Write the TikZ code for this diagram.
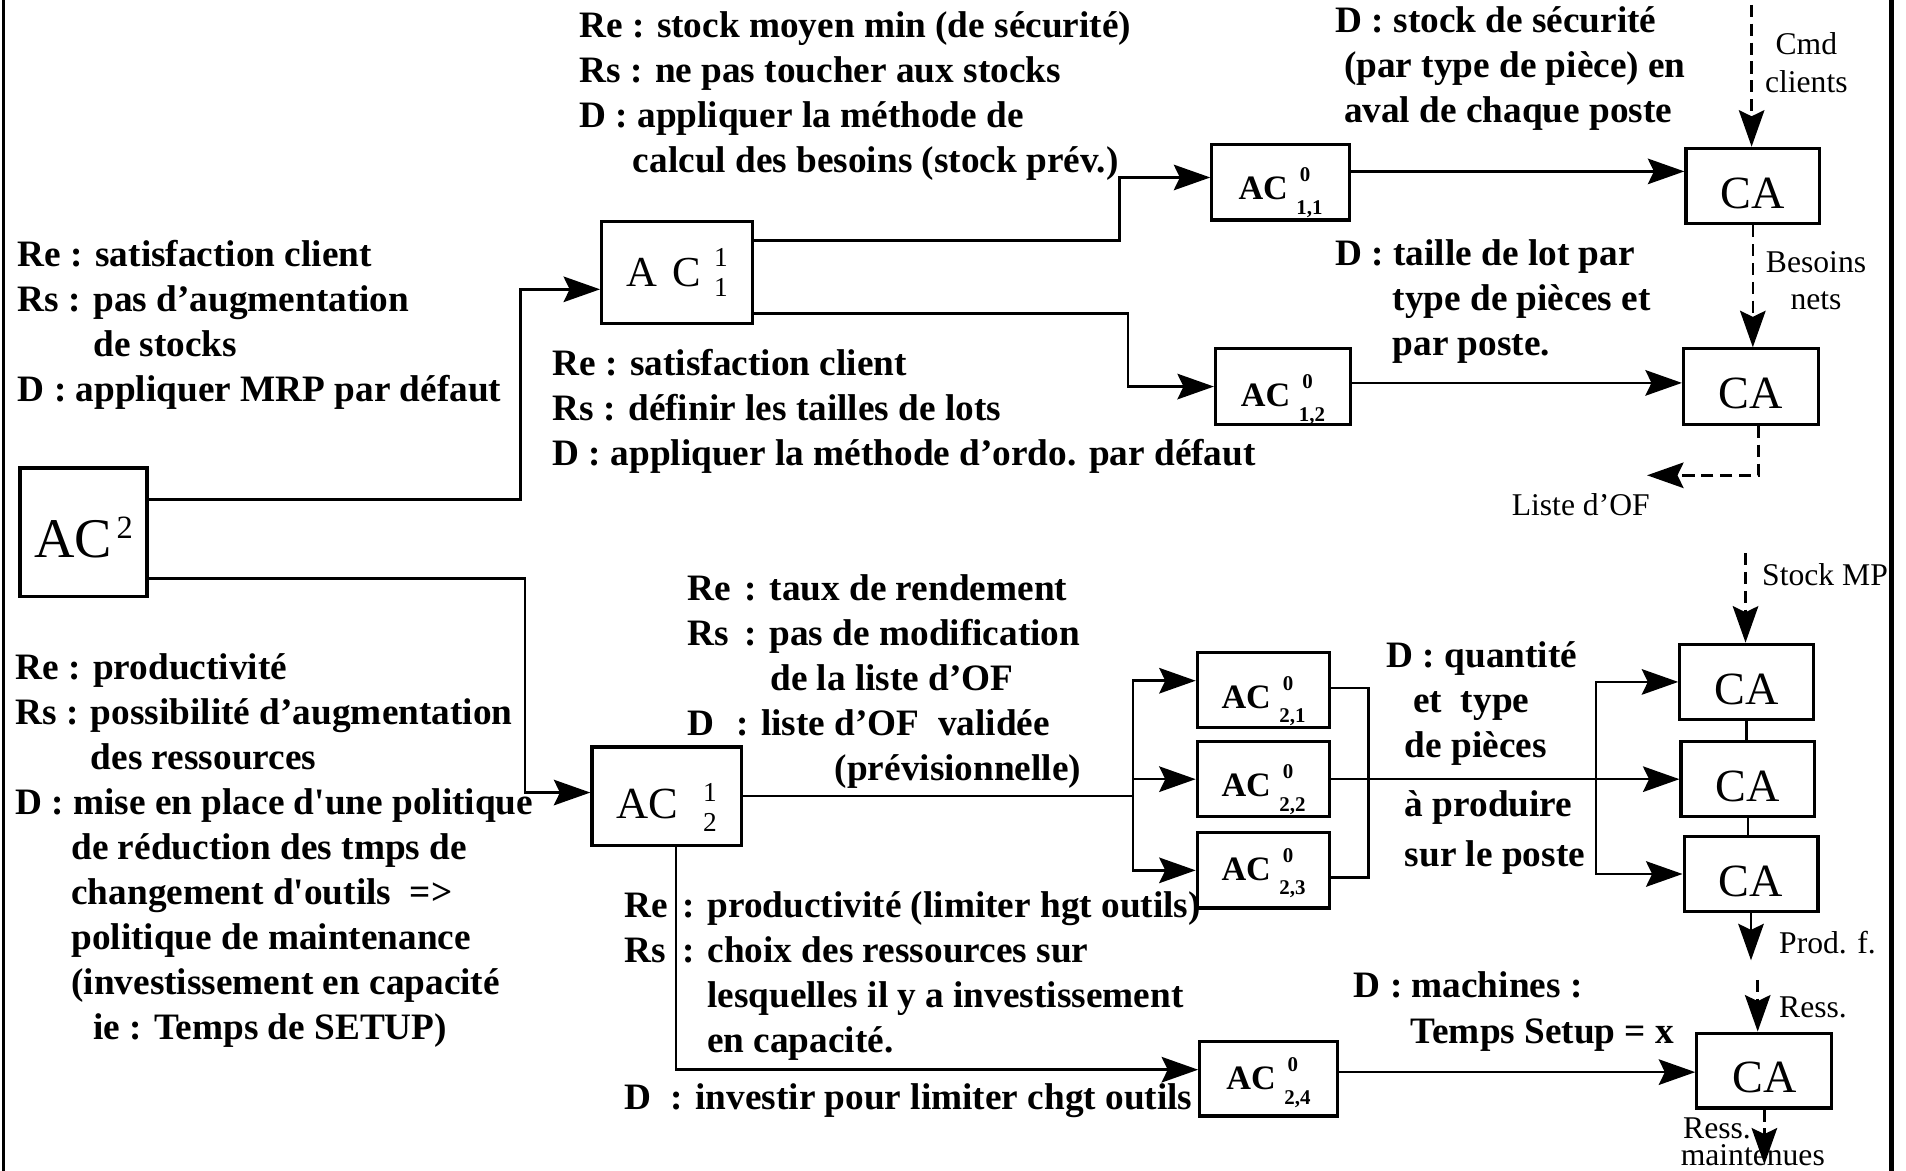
\documentclass[tikz,border=0pt]{standalone}
\usepackage{fontspec}
\setmainfont{Liberation Serif}
\usetikzlibrary{arrows.meta}
\newcommand{\txtfont}{\bfseries\fontsize{8.72}{10.53}\selectfont}
\newcommand{\lblfont}{\fontsize{7.4}{8.8}\selectfont}
\newcommand{\supsub}[4]{\rlap{\raisebox{#3}{#1}}\raisebox{#4}{#2}}
\newcommand{\aczero}[1]{AC\hspace{2pt}{\fontsize{4.9}{5}\selectfont\supsub{\hspace{0.8pt}0}{#1}{4.2pt}{-3.4pt}}}
\tikzset{
  box/.style={draw, line width=0.75pt, inner sep=0pt, text depth=0pt},
  cabox/.style={box, minimum width=1.1cm, minimum height=0.62cm,
                font=\fontsize{10.8}{12}\selectfont, text height=10.5pt},
  acbox/.style={box, minimum width=1.1cm, minimum height=0.62cm,
                font=\bfseries\fontsize{8}{9}\selectfont},
  conn/.style={line width=0.6pt},
  arr/.style={conn, -{Stealth[length=0.3cm, width=0.21cm, inset=0.05cm]}},
  darr/.style={arr, dash pattern=on 0.1cm off 0.055cm},
  txt/.style={font=\txtfont, inner sep=0pt, anchor=base west},
  lbl/.style={font=\lblfont, inner sep=0pt, anchor=base west},
}
\begin{document}
\begin{tikzpicture}[x=0.01cm, y=-0.01cm]
\useasboundingbox (0,0) rectangle (1568,963);
% frame
\draw[line width=0.8pt] (3,0) -- (3,963);
\draw[line width=1pt] (1556,0) -- (1556,963);

% level 2 and level 1
\node[box, minimum width=1.045cm, minimum height=1.06cm, text height=11.95pt,
      font=\fontsize{13.1}{14}\selectfont] (ac2) at (68.7,438)
      {AC\hspace{1.1pt}\raisebox{4.5pt}{\fontsize{7.6}{8}\selectfont 2}};
\node[box, minimum width=1.24cm, minimum height=0.84cm, text height=6.8pt,
      font=\fontsize{10}{12}\selectfont] (ac11) at (557,224)
      {A\hspace{0.36em}C\hspace{3pt}{\fontsize{6.4}{7}\selectfont\supsub{1}{1}{4.8pt}{-2.2pt}}};
\node[box, minimum width=1.23cm, minimum height=0.81cm, text height=10.2pt,
      font=\fontsize{10.4}{12}\selectfont] (ac12) at (548.5,655)
      {AC\hspace{5.8pt}{\fontsize{6.4}{7}\selectfont\supsub{1}{2}{3.9pt}{-3.1pt}}};

% level 0
\node[acbox, minimum width=1.13cm, text height=8.2pt] (ac011) at (1053.5,150) {\aczero{1,1}};
\node[acbox, minimum width=1.11cm, text height=9.5pt] (ac012) at (1055.5,318) {\aczero{1,2}};
\node[acbox, minimum width=1.09cm, text height=8.5pt] (ac021) at (1039.5,567.5) {\aczero{2,1}};
\node[acbox, minimum width=1.09cm, text height=8.3pt] (ac022) at (1039.5,641) {\aczero{2,2}};
\node[acbox, minimum width=1.09cm, text height=4.6pt] (ac023) at (1039.5,716) {\aczero{2,3}};
\node[acbox, minimum width=1.13cm, minimum height=0.61cm, text height=5.1pt] (ac024) at (1043.5,887.5) {\aczero{2,4}};

% centres d'action
\node[cabox] (caA) at (1442,153) {CA};
\node[cabox, minimum width=1.11cm] (caB) at (1440.5,318) {CA};
\node[cabox] (caC1) at (1437,561) {CA};
\node[cabox] (caC2) at (1438,641) {CA};
\node[cabox] (caC3) at (1440.5,719) {CA};
\node[cabox, minimum width=1.11cm, minimum height=0.615cm] (caD) at (1451.5,880.7) {CA};

% connectors
\draw[arr] (ac2.east |- 0,411) -- (428,411) |- (ac11.west |- 0,238);
\draw[arr] (ac2.east |- 0,476) -- (432,476) |- (ac12.west |- 0,652);
\draw[arr] (ac11.east |- 0,198) -- (921,198) |- (ac011.west |- 0,146);
\draw[arr] (ac11.east |- 0,258) -- (928,258) |- (ac012.west);
\draw[arr] (ac011.east |- 0,141) -- (caA.west |- 0,141);
\draw[arr] (ac012.east |- 0,315) -- (caB.west |- 0,315);
\coordinate (fork) at (932,655);
\draw[conn] (ac12.east) -- (fork);
\draw[arr] (fork) |- (ac021.west |- 0,560);
\draw[arr] (fork) |- (ac022.west);
\draw[arr] (fork) |- (ac023.west);
\draw[conn] (ac021.east |- 0,566) -| (1126,722) -- (ac023.east |- 0,722);
\draw[arr] (ac022.east) -- (caC2.west);
\coordinate (join) at (1313,641);
\draw[arr] (join) |- (caC1.west);
\draw[arr] (join) |- (caC3.west);
\draw[conn] (caC1.south) -- (caC1.south |- caC2.north);
\draw[conn] (caC2.south) -- (caC2.south |- caC3.north);
\draw[arr] (ac12.south -| 556,0) |- (ac024.west |- 0,880);
\draw[arr] (ac024.east |- 0,882) -- (caD.west |- 0,882);

% flows
\coordinate (cmdin) at (1441,4);
\draw[darr] (cmdin) -- (cmdin |- caA.north);
\draw[darr] (caA.south) -- (caA.south |- caB.north);
\coordinate (ofend) at (1355,391);
\draw[darr] ([xshift=0.06cm]caB.south) |- (ofend);
\coordinate (mpin) at (1436,455);
\draw[darr] (mpin) -- (mpin |- caC1.north);
\coordinate (prodout) at (1443,790);
\draw[arr] (caC3.south) -- (caC3.south |- prodout);
\coordinate (ressin) at (1446,806);
\draw[darr] (ressin) -- (ressin |- caD.north);
\coordinate (ressout) at (1450,958);
\draw[darr] (caD.south) -- (caD.south |- ressout);

% texts
\node[txt] (txtL1) at (14,219) {\begin{tabular}[t]{@{}l@{}}
  Re : satisfaction client\\
  Rs : pas d’augmentation\\
  \hspace*{0.62cm}de stocks\\
  D : appliquer MRP par défaut\end{tabular}};
\node[txt] (txtTC) at (476,31) {\begin{tabular}[t]{@{}l@{}}
  Re : stock moyen min (de sécurité)\\
  Rs : ne pas toucher aux stocks\\
  D : appliquer la méthode de\\
  \hspace*{0.44cm}calcul des besoins (stock prév.)\end{tabular}};
\node[txt] (txtM1) at (454,309) {\begin{tabular}[t]{@{}l@{}}
  Re : satisfaction client\\
  Rs : définir les tailles de lots\\
  D : appliquer la méthode d’ordo. par défaut\end{tabular}};
\node[txt] (txtTR) at (1098,27) {\begin{tabular}[t]{@{}l@{}}
  D : stock de sécurité\\
  \hspace*{0.07cm}(par type de pièce) en\\
  \hspace*{0.07cm}aval de chaque poste\end{tabular}};
\node[txt] (txtR1) at (1098,218) {\begin{tabular}[t]{@{}l@{}}
  D : taille de lot par\\
  \hspace*{0.47cm}type de pièces et\\
  \hspace*{0.47cm}par poste.\end{tabular}};
\node[txt] (txtL2) at (12,559) {\begin{tabular}[t]{@{}l@{}}
  Re : productivité\\
  Rs : possibilité d’augmentation\\
  \hspace*{0.62cm}des ressources\\
  D : mise en place d\textquotesingle une politique\\
  \hspace*{0.46cm}de réduction des tmps de\\
  \hspace*{0.46cm}changement d\textquotesingle outils\ \ =>\\
  \hspace*{0.46cm}politique de maintenance\\
  \hspace*{0.46cm}(investissement en capacité\\
  \hspace*{0.64cm}ie : Temps de SETUP)\end{tabular}};
\node[txt] (txtM2) at (565,494) {\begin{tabular}[t]{@{}l@{}}
  \makebox[0.47cm][l]{Re}: taux de rendement\\
  \makebox[0.47cm][l]{Rs}: pas de modification\\
  \hspace*{0.68cm}de la liste d’OF\\
  \makebox[0.40cm][l]{D}: liste d’OF\ \ validée\\
  \hspace*{1.21cm}(prévisionnelle)\end{tabular}};
\node[txt] (txtM3) at (513,755) {\begin{tabular}[t]{@{}l@{}}
  \makebox[0.48cm][l]{Re}: productivité (limiter hgt outils)\\
  \makebox[0.48cm][l]{Rs}: choix des ressources sur\\
  \hspace*{0.68cm}lesquelles il y a investissement\\
  \hspace*{0.68cm}en capacité.\end{tabular}};
\node[txt] (txtM3d) at (513,913) {\makebox[0.38cm][l]{D}: investir pour limiter chgt outils};
\node[txt] (txtR2) at (1140,549) {\begin{tabular}[t]{@{}l@{}}
  D : quantité\\
  \hspace*{0.22cm}et\ \ type\\
  \hspace*{0.15cm}de pièces\end{tabular}};
\node[txt] (txtR2b) at (1155,672) {à produire};
\node[txt] (txtR2c) at (1155,713) {sur le poste};
\node[txt] (txtR3) at (1113,821) {\begin{tabular}[t]{@{}l@{}}
  D : machines :\\
  \hspace*{0.47cm}Temps Setup = x\end{tabular}};

% flow labels
\node[lbl, anchor=base] (lblcmd) at (1486,45) {\begin{tabular}[t]{@{}c@{}}Cmd\\ clients\end{tabular}};
\node[lbl, anchor=base] (lblbes) at (1494,224) {\begin{tabular}[t]{@{}c@{}}Besoins\\ nets\end{tabular}};
\node[lbl] (lblof) at (1243,424) {Liste d’OF};
\node[lbl] (lblmp) at (1449,482) {Stock MP};
\node[lbl] (lblprod) at (1463,784) {Prod. f.};
\node[lbl] (lblress) at (1463,837) {Ress.};
\node[lbl] (lblressm) at (1384,937) {Ress.};
\node[lbl] (lblmaint) at (1382,959) {maintenues};
\end{tikzpicture}
\end{document}
